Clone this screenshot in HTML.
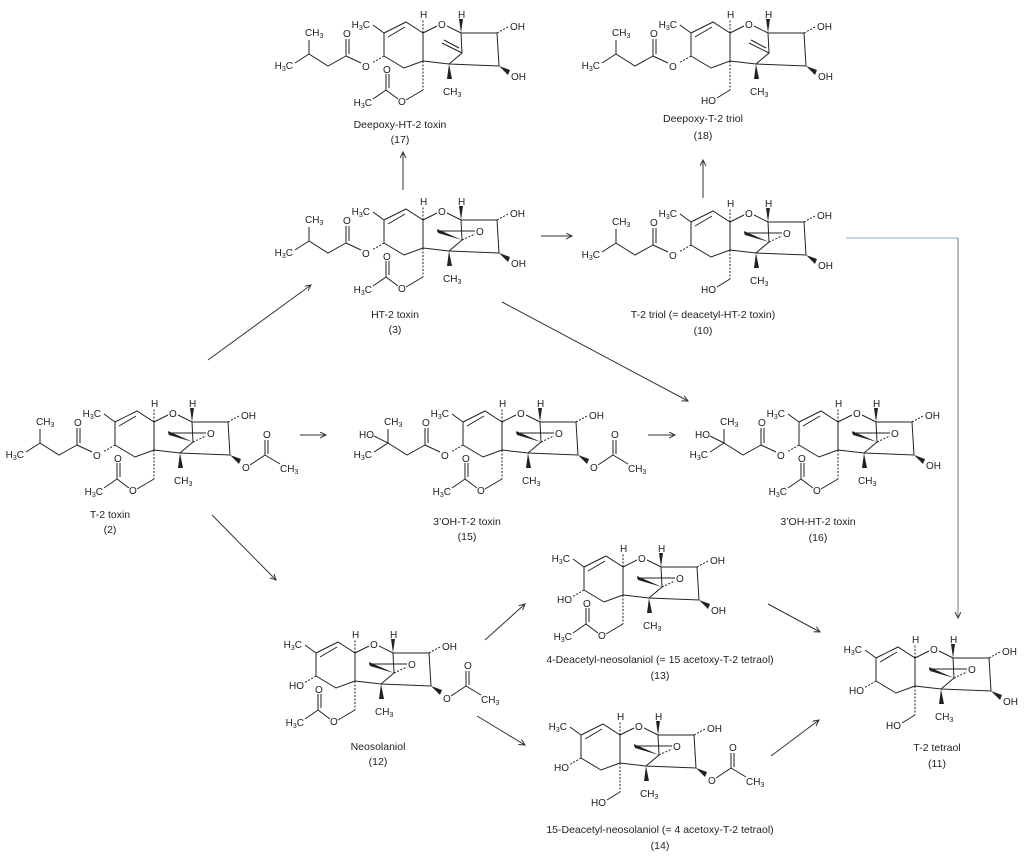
<!DOCTYPE html>
<html><head><meta charset="utf-8"><style>
html,body{margin:0;padding:0;background:#fff;}
svg{display:block;}
text{font-family:"Liberation Sans",sans-serif;fill:#222;}
.a{font-size:10px;}
.n{font-size:10.5px;text-anchor:middle;}
</style></head><body>
<svg width="1024" height="856" viewBox="0 0 1024 856" xmlns="http://www.w3.org/2000/svg">
<defs>
<marker id="ar" markerWidth="8" markerHeight="8" refX="6" refY="3" orient="auto" markerUnits="userSpaceOnUse">
<path d="M0,0 L6,3 L0,6" fill="none" stroke="#333" stroke-width="1"/></marker>
<g id="core" stroke="#222" stroke-width="1" fill="none">
<path d="M-39,0 L-17,-11 L0,0 L0,28 L-19,35 L-39,23 Z M-35,4 L-18,-6 M-39,0 L-50,-8 M0,0 L14,-7 M24,-7 L38,0 L74,0 L76,33 L26,31 L0,28 M26,31 L39,20 L38,0"/>
<path d="M0,0 L0,-14 M74,0 L85,-6 M0,28 L0,57 M-39,23 L-51,30" stroke-dasharray="2,1.5"/>
<polygon points="38,0 36,-14 40,-14" fill="#222" stroke="none"/>
<polygon points="76,33 87,37 85,42" fill="#222" stroke="none"/>
<polygon points="26,31 24,46 29,46" fill="#222" stroke="none"/>
</g>
<g id="epox" stroke="#222" stroke-width="1" fill="none">
<polygon points="39,20 14,9 15,13" fill="#222" stroke="none"/>
<path d="M14,11 L52,11"/><path d="M39,20 L52,14" stroke-dasharray="2,1.5"/>
</g>
<g id="deep" stroke="#222" stroke-width="1" fill="none"><path d="M39,20 L19,10 M36,15 L21,7"/></g>
<g id="iso" stroke="#222" stroke-width="1" fill="none">
<path d="M-62,30 L-77,23 L-77,6 M-74,21 L-74,6 M-77,23 L-95,33 L-114,21 L-114,7 M-114,21 L-128,30"/></g>
<g id="oac15" stroke="#222" stroke-width="1" fill="none">
<path d="M0,57 L-17,67 M-25,66 L-37,57 L-37,41 M-34,55 L-34,41 M-37,57 L-50,66"/></g>
<g id="ho15" stroke="#222" stroke-width="1" fill="none"><path d="M0,57 L-13,65"/></g>
<g id="oac4" stroke="#222" stroke-width="1" fill="none">
<path d="M96,43 L111,33 L111,18 M114,32 L114,18 M111,33 L126,42"/></g>
</defs>

<!-- arrows -->
<g stroke="#333" stroke-width="1" fill="none" marker-end="url(#ar)">
<path d="M403,190 L403,152"/>
<path d="M703,198 L703,160"/>
<path d="M541,236 L572,236"/>
<path d="M208,360 L311,285"/>
<path d="M502,302 L688,401"/>
<path d="M300,435 L326,435"/>
<path d="M648,435 L675,435"/>
<path d="M212,515 L276,580"/>
<path d="M485,640 L525,604"/>
<path d="M477,716 L525,745"/>
<path d="M768,604 L820,632"/>
<path d="M771,756 L819,720"/>
</g>
<path d="M846,238 L958,238" stroke="#8aa8c8" stroke-width="1" fill="none"/>
<path d="M958,238 L958,618" stroke="#777" stroke-width="1" fill="none" marker-end="url(#ar)"/>

<!-- 17 Deepoxy-HT-2 -->
<g transform="translate(423,33)">
<use href="#core"/><use href="#deep"/><use href="#iso"/><use href="#oac15"/>
<text class="a" x="-3" y="-15">H</text><text class="a" x="15" y="-5">O</text><text class="a" x="35" y="-15">H</text>
<text class="a" x="87" y="-3">OH</text><text class="a" x="88" y="47">OH</text>
<text class="a" x="20" y="62">CH<tspan dy="2" font-size="7">3</tspan></text>
<text class="a" x="-53" y="-5" text-anchor="end">H<tspan dy="2" font-size="7">3</tspan><tspan dy="-2">C</tspan></text>
<text class="a" x="-61" y="37">O</text><text class="a" x="-80" y="4">O</text>
<text class="a" x="-118" y="3">CH<tspan dy="2" font-size="7">3</tspan></text>
<text class="a" x="-130" y="36" text-anchor="end">H<tspan dy="2" font-size="7">3</tspan><tspan dy="-2">C</tspan></text>
<text class="a" x="-25" y="72">O</text><text class="a" x="-40" y="40">O</text>
<text class="a" x="-51" y="73" text-anchor="end">H<tspan dy="2" font-size="7">3</tspan><tspan dy="-2">C</tspan></text>
</g>
<text class="n" x="400" y="128">Deepoxy-HT-2 toxin</text><text class="n" x="400" y="143">(17)</text>

<!-- 18 Deepoxy-T-2 triol -->
<g transform="translate(730,33)">
<use href="#core"/><use href="#deep"/><use href="#iso"/><use href="#ho15"/>
<text class="a" x="-3" y="-15">H</text><text class="a" x="15" y="-5">O</text><text class="a" x="35" y="-15">H</text>
<text class="a" x="87" y="-3">OH</text><text class="a" x="88" y="47">OH</text>
<text class="a" x="20" y="62">CH<tspan dy="2" font-size="7">3</tspan></text>
<text class="a" x="-53" y="-5" text-anchor="end">H<tspan dy="2" font-size="7">3</tspan><tspan dy="-2">C</tspan></text>
<text class="a" x="-61" y="37">O</text><text class="a" x="-80" y="4">O</text>
<text class="a" x="-118" y="3">CH<tspan dy="2" font-size="7">3</tspan></text>
<text class="a" x="-130" y="36" text-anchor="end">H<tspan dy="2" font-size="7">3</tspan><tspan dy="-2">C</tspan></text>
<text class="a" x="-14" y="71" text-anchor="end">HO</text>
</g>
<text class="n" x="703" y="122">Deepoxy-T-2 triol</text><text class="n" x="703" y="139">(18)</text>

<!-- 3 HT-2 -->
<g transform="translate(423,220)">
<use href="#core"/><use href="#epox"/><use href="#iso"/><use href="#oac15"/>
<text class="a" x="-3" y="-15">H</text><text class="a" x="15" y="-5">O</text><text class="a" x="35" y="-15">H</text>
<text class="a" x="53" y="15">O</text>
<text class="a" x="87" y="-3">OH</text><text class="a" x="88" y="47">OH</text>
<text class="a" x="20" y="62">CH<tspan dy="2" font-size="7">3</tspan></text>
<text class="a" x="-53" y="-5" text-anchor="end">H<tspan dy="2" font-size="7">3</tspan><tspan dy="-2">C</tspan></text>
<text class="a" x="-61" y="37">O</text><text class="a" x="-80" y="4">O</text>
<text class="a" x="-118" y="3">CH<tspan dy="2" font-size="7">3</tspan></text>
<text class="a" x="-130" y="36" text-anchor="end">H<tspan dy="2" font-size="7">3</tspan><tspan dy="-2">C</tspan></text>
<text class="a" x="-25" y="72">O</text><text class="a" x="-40" y="40">O</text>
<text class="a" x="-51" y="73" text-anchor="end">H<tspan dy="2" font-size="7">3</tspan><tspan dy="-2">C</tspan></text>
</g>
<text class="n" x="395" y="318">HT-2 toxin</text><text class="n" x="395" y="333">(3)</text>

<!-- 10 T-2 triol -->
<g transform="translate(730,222)">
<use href="#core"/><use href="#epox"/><use href="#iso"/><use href="#ho15"/>
<text class="a" x="-3" y="-15">H</text><text class="a" x="15" y="-5">O</text><text class="a" x="35" y="-15">H</text>
<text class="a" x="53" y="15">O</text>
<text class="a" x="87" y="-3">OH</text><text class="a" x="88" y="47">OH</text>
<text class="a" x="20" y="62">CH<tspan dy="2" font-size="7">3</tspan></text>
<text class="a" x="-53" y="-5" text-anchor="end">H<tspan dy="2" font-size="7">3</tspan><tspan dy="-2">C</tspan></text>
<text class="a" x="-61" y="37">O</text><text class="a" x="-80" y="4">O</text>
<text class="a" x="-118" y="3">CH<tspan dy="2" font-size="7">3</tspan></text>
<text class="a" x="-130" y="36" text-anchor="end">H<tspan dy="2" font-size="7">3</tspan><tspan dy="-2">C</tspan></text>
<text class="a" x="-14" y="71" text-anchor="end">HO</text>
</g>
<text class="n" x="703" y="318">T-2 triol (= deacetyl-HT-2 toxin)</text><text class="n" x="703" y="334">(10)</text>

<!-- 2 T-2 toxin -->
<g transform="translate(154,422)">
<use href="#core"/><use href="#epox"/><use href="#iso"/><use href="#oac15"/><use href="#oac4"/>
<text class="a" x="-3" y="-15">H</text><text class="a" x="15" y="-5">O</text><text class="a" x="35" y="-15">H</text>
<text class="a" x="53" y="15">O</text>
<text class="a" x="87" y="-3">OH</text>
<text class="a" x="88" y="49">O</text><text class="a" x="109" y="16">O</text>
<text class="a" x="126" y="50">CH<tspan dy="2" font-size="7">3</tspan></text>
<text class="a" x="20" y="62">CH<tspan dy="2" font-size="7">3</tspan></text>
<text class="a" x="-53" y="-5" text-anchor="end">H<tspan dy="2" font-size="7">3</tspan><tspan dy="-2">C</tspan></text>
<text class="a" x="-61" y="37">O</text><text class="a" x="-80" y="4">O</text>
<text class="a" x="-118" y="3">CH<tspan dy="2" font-size="7">3</tspan></text>
<text class="a" x="-130" y="36" text-anchor="end">H<tspan dy="2" font-size="7">3</tspan><tspan dy="-2">C</tspan></text>
<text class="a" x="-25" y="72">O</text><text class="a" x="-40" y="40">O</text>
<text class="a" x="-51" y="73" text-anchor="end">H<tspan dy="2" font-size="7">3</tspan><tspan dy="-2">C</tspan></text>
</g>
<text class="n" x="110" y="518">T-2 toxin</text><text class="n" x="110" y="533">(2)</text>

<!-- 15 3'OH-T-2 -->
<g transform="translate(502,422)">
<use href="#core"/><use href="#epox"/><use href="#iso"/><use href="#oac15"/><use href="#oac4"/>
<path d="M-114,21 L-128,14" stroke="#222" fill="none"/>
<text class="a" x="-3" y="-15">H</text><text class="a" x="15" y="-5">O</text><text class="a" x="35" y="-15">H</text>
<text class="a" x="53" y="15">O</text>
<text class="a" x="87" y="-3">OH</text>
<text class="a" x="88" y="49">O</text><text class="a" x="109" y="16">O</text>
<text class="a" x="126" y="50">CH<tspan dy="2" font-size="7">3</tspan></text>
<text class="a" x="20" y="62">CH<tspan dy="2" font-size="7">3</tspan></text>
<text class="a" x="-53" y="-5" text-anchor="end">H<tspan dy="2" font-size="7">3</tspan><tspan dy="-2">C</tspan></text>
<text class="a" x="-61" y="37">O</text><text class="a" x="-80" y="4">O</text>
<text class="a" x="-118" y="3">CH<tspan dy="2" font-size="7">3</tspan></text>
<text class="a" x="-128" y="16" text-anchor="end">HO</text>
<text class="a" x="-130" y="36" text-anchor="end">H<tspan dy="2" font-size="7">3</tspan><tspan dy="-2">C</tspan></text>
<text class="a" x="-25" y="72">O</text><text class="a" x="-40" y="40">O</text>
<text class="a" x="-51" y="73" text-anchor="end">H<tspan dy="2" font-size="7">3</tspan><tspan dy="-2">C</tspan></text>
</g>
<text class="n" x="467" y="525">3’OH-T-2 toxin</text><text class="n" x="467" y="540">(15)</text>

<!-- 16 3'OH-HT-2 -->
<g transform="translate(838,422)">
<use href="#core"/><use href="#epox"/><use href="#iso"/><use href="#oac15"/>
<path d="M-114,21 L-128,14" stroke="#222" fill="none"/>
<text class="a" x="-3" y="-15">H</text><text class="a" x="15" y="-5">O</text><text class="a" x="35" y="-15">H</text>
<text class="a" x="53" y="15">O</text>
<text class="a" x="87" y="-3">OH</text><text class="a" x="88" y="47">OH</text>
<text class="a" x="20" y="62">CH<tspan dy="2" font-size="7">3</tspan></text>
<text class="a" x="-53" y="-5" text-anchor="end">H<tspan dy="2" font-size="7">3</tspan><tspan dy="-2">C</tspan></text>
<text class="a" x="-61" y="37">O</text><text class="a" x="-80" y="4">O</text>
<text class="a" x="-118" y="3">CH<tspan dy="2" font-size="7">3</tspan></text>
<text class="a" x="-128" y="16" text-anchor="end">HO</text>
<text class="a" x="-130" y="36" text-anchor="end">H<tspan dy="2" font-size="7">3</tspan><tspan dy="-2">C</tspan></text>
<text class="a" x="-25" y="72">O</text><text class="a" x="-40" y="40">O</text>
<text class="a" x="-51" y="73" text-anchor="end">H<tspan dy="2" font-size="7">3</tspan><tspan dy="-2">C</tspan></text>
</g>
<text class="n" x="818" y="525">3’OH-HT-2 toxin</text><text class="n" x="818" y="541">(16)</text>

<!-- 12 Neosolaniol -->
<g transform="translate(355,653)">
<use href="#core"/><use href="#epox"/><use href="#oac15"/><use href="#oac4"/>
<text class="a" x="-3" y="-15">H</text><text class="a" x="15" y="-5">O</text><text class="a" x="35" y="-15">H</text>
<text class="a" x="53" y="15">O</text>
<text class="a" x="87" y="-3">OH</text>
<text class="a" x="88" y="49">O</text><text class="a" x="109" y="16">O</text>
<text class="a" x="126" y="50">CH<tspan dy="2" font-size="7">3</tspan></text>
<text class="a" x="20" y="62">CH<tspan dy="2" font-size="7">3</tspan></text>
<text class="a" x="-53" y="-5" text-anchor="end">H<tspan dy="2" font-size="7">3</tspan><tspan dy="-2">C</tspan></text>
<text class="a" x="-51" y="36" text-anchor="end">HO</text>
<text class="a" x="-25" y="72">O</text><text class="a" x="-40" y="40">O</text>
<text class="a" x="-51" y="73" text-anchor="end">H<tspan dy="2" font-size="7">3</tspan><tspan dy="-2">C</tspan></text>
</g>
<text class="n" x="378" y="750">Neosolaniol</text><text class="n" x="378" y="765">(12)</text>

<!-- 13 -->
<g transform="translate(623,567)">
<use href="#core"/><use href="#epox"/><use href="#oac15"/>
<text class="a" x="-3" y="-15">H</text><text class="a" x="15" y="-5">O</text><text class="a" x="35" y="-15">H</text>
<text class="a" x="53" y="15">O</text>
<text class="a" x="87" y="-3">OH</text><text class="a" x="88" y="47">OH</text>
<text class="a" x="20" y="62">CH<tspan dy="2" font-size="7">3</tspan></text>
<text class="a" x="-53" y="-5" text-anchor="end">H<tspan dy="2" font-size="7">3</tspan><tspan dy="-2">C</tspan></text>
<text class="a" x="-51" y="36" text-anchor="end">HO</text>
<text class="a" x="-25" y="72">O</text><text class="a" x="-40" y="40">O</text>
<text class="a" x="-51" y="73" text-anchor="end">H<tspan dy="2" font-size="7">3</tspan><tspan dy="-2">C</tspan></text>
</g>
<text class="n" x="660" y="663">4-Deacetyl-neosolaniol (= 15 acetoxy-T-2 tetraol)</text><text class="n" x="660" y="679">(13)</text>

<!-- 14 -->
<g transform="translate(620,735)">
<use href="#core"/><use href="#epox"/><use href="#ho15"/><use href="#oac4"/>
<text class="a" x="-3" y="-15">H</text><text class="a" x="15" y="-5">O</text><text class="a" x="35" y="-15">H</text>
<text class="a" x="53" y="15">O</text>
<text class="a" x="87" y="-3">OH</text>
<text class="a" x="88" y="49">O</text><text class="a" x="109" y="16">O</text>
<text class="a" x="126" y="50">CH<tspan dy="2" font-size="7">3</tspan></text>
<text class="a" x="20" y="62">CH<tspan dy="2" font-size="7">3</tspan></text>
<text class="a" x="-53" y="-5" text-anchor="end">H<tspan dy="2" font-size="7">3</tspan><tspan dy="-2">C</tspan></text>
<text class="a" x="-51" y="36" text-anchor="end">HO</text>
<text class="a" x="-14" y="71" text-anchor="end">HO</text>
</g>
<text class="n" x="660" y="833">15-Deacetyl-neosolaniol (= 4 acetoxy-T-2 tetraol)</text><text class="n" x="660" y="849">(14)</text>

<!-- 11 T-2 tetraol -->
<g transform="translate(915,658)">
<use href="#core"/><use href="#epox"/><use href="#ho15"/>
<text class="a" x="-3" y="-15">H</text><text class="a" x="15" y="-5">O</text><text class="a" x="35" y="-15">H</text>
<text class="a" x="53" y="15">O</text>
<text class="a" x="87" y="-3">OH</text><text class="a" x="88" y="47">OH</text>
<text class="a" x="20" y="62">CH<tspan dy="2" font-size="7">3</tspan></text>
<text class="a" x="-53" y="-5" text-anchor="end">H<tspan dy="2" font-size="7">3</tspan><tspan dy="-2">C</tspan></text>
<text class="a" x="-51" y="36" text-anchor="end">HO</text>
<text class="a" x="-14" y="71" text-anchor="end">HO</text>
</g>
<text class="n" x="937" y="751">T-2 tetraol</text><text class="n" x="937" y="767">(11)</text>
</svg>
</body></html>
